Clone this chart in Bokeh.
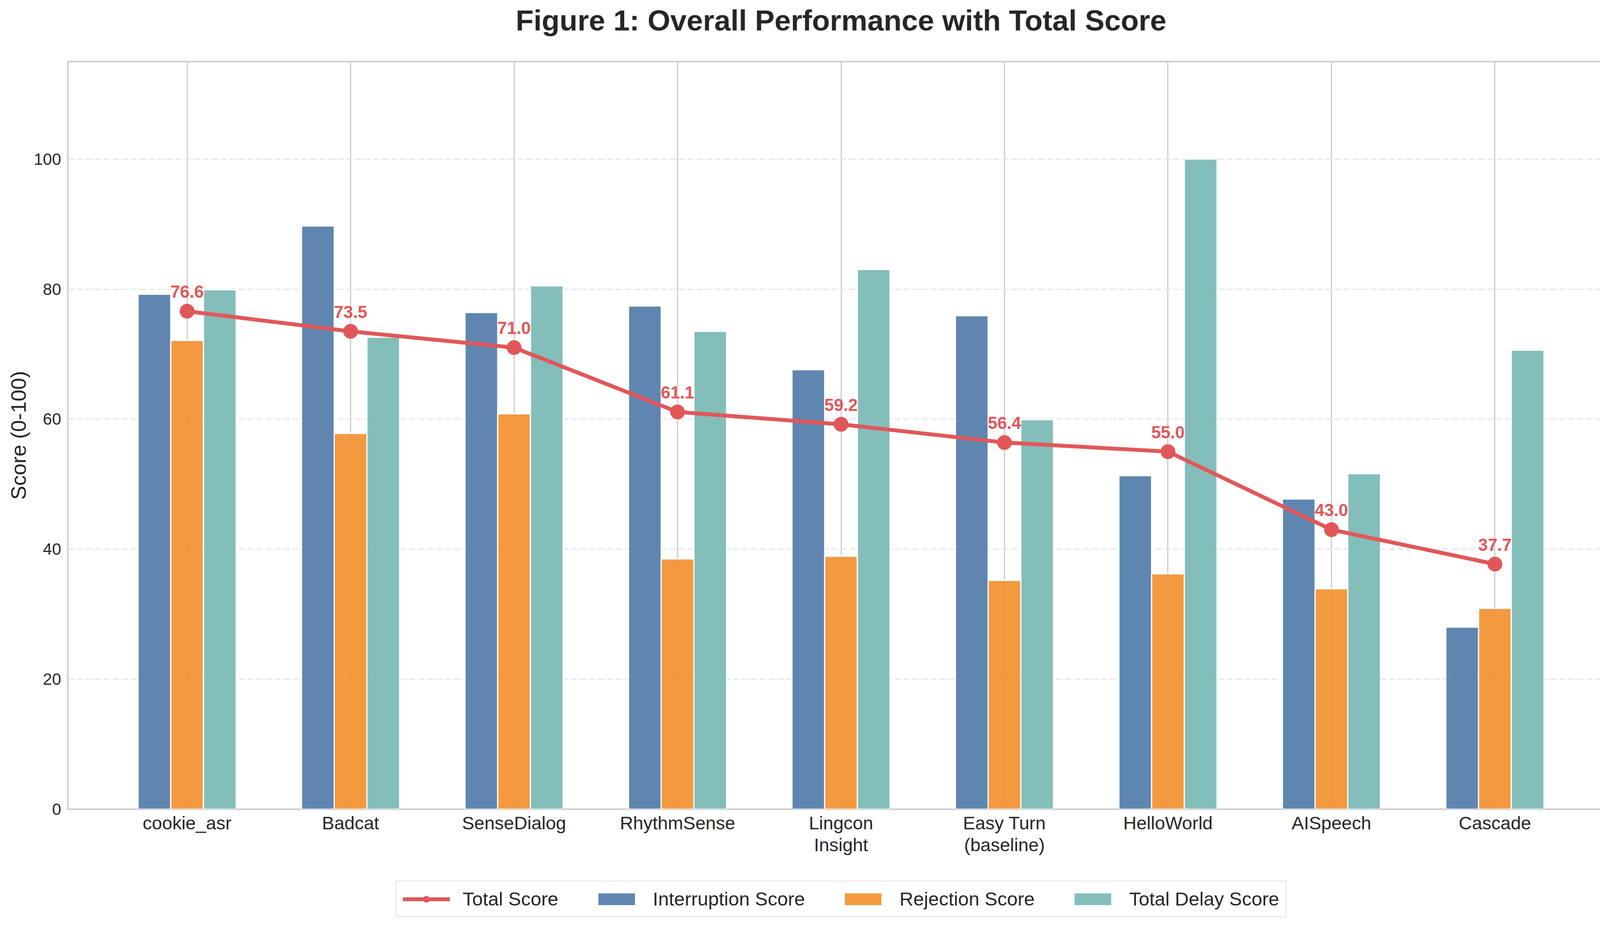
from bokeh.plotting import figure
from bokeh.layouts import column
from bokeh.models import (Range1d, FixedTicker, Legend, LegendItem, ColumnDataSource, Title,
                          LinearAxis)
from bokeh.transform import dodge
from bokeh.core.properties import value
from bokeh.embed import file_html
from bokeh.resources import INLINE

categories = ["cookie_asr", "Badcat", "SenseDialog", "RhythmSense", "Lingcon\nInsight",
              "Easy Turn\n(baseline)", "HelloWorld", "AISpeech", "Cascade"]
interruption = [79.2, 89.7, 76.4, 77.4, 67.6, 75.9, 51.3, 47.7, 28.0]
rejection = [72.1, 57.8, 60.8, 38.5, 38.9, 35.2, 36.2, 33.9, 30.9]
delay = [79.9, 72.6, 80.5, 73.5, 83.0, 59.9, 100.0, 51.6, 70.6]
total = [76.6, 73.5, 71.0, 61.1, 59.2, 56.4, 55.0, 43.0, 37.7]
y_ticks = [0, 20, 40, 60, 80, 100]
series_names = ["Total Score", "Interruption Score", "Rejection Score", "Total Delay Score"]

FONT = "Liberation Sans"
TXT = "#262626"
C_TOTAL, C_INT, C_REJ, C_DEL = "#e15759", "#4e79a7", "#f28e2b", "#76b7b2"

idx = list(range(len(categories)))
first_lines = {i: c.split("\n")[0] for i, c in enumerate(categories)}
second_lines = {i: c.split("\n")[1] for i, c in enumerate(categories) if "\n" in c}

src = ColumnDataSource(dict(
    idx=idx, interruption=interruption, rejection=rejection, delay=delay,
    total=total, label=[f"{v:.1f}" for v in total]))

p = figure(frame_width=3959, frame_height=1914, output_backend="svg", toolbar_location=None,
           x_range=Range1d(-0.73, 8.73), y_range=Range1d(0, 115), title=None,
           min_border_left=173, min_border_right=21, min_border_top=0,
           min_border_bottom=0)

# spacer (nearest the frame), then the real title above it
p.add_layout(Title(text=" ", text_font=FONT, text_font_size="10px", standoff=44), "above")
p.add_layout(Title(text="Figure 1: Overall Performance with Total Score", text_font=FONT,
                   text_font_size="75px", text_font_style="bold", text_color=TXT,
                   align="center", standoff=14), "above")

p.outline_line_color = "#cccccc"
p.outline_line_width = 4

p.xgrid.grid_line_color = "#cccccc"
p.xgrid.grid_line_width = 3
p.ygrid.grid_line_color = "#e5e5e5"
p.ygrid.grid_line_width = 3
p.ygrid.grid_line_dash = "16 7"


def style_axis(ax, size):
    ax.axis_line_color = None
    ax.major_tick_line_color = None
    ax.minor_tick_line_color = None
    ax.major_tick_out = 0
    ax.major_tick_in = 0
    ax.minor_tick_out = 0
    ax.minor_tick_in = 0
    ax.major_label_text_font = FONT
    ax.major_label_text_color = TXT
    ax.major_label_text_font_size = size


style_axis(p.xaxis[0], "47px")
style_axis(p.yaxis[0], "42px")

p.xaxis.ticker = FixedTicker(ticks=idx)
p.xaxis.major_label_overrides = first_lines
p.xaxis.major_label_standoff = 8

# second line of the two-line category names
x2 = LinearAxis(ticker=FixedTicker(ticks=list(second_lines.keys())),
                major_label_overrides=second_lines, major_label_standoff=0)
style_axis(x2, "47px")
p.add_layout(x2, "below")

p.yaxis.ticker = FixedTicker(ticks=y_ticks)
p.yaxis.major_label_standoff = 17
p.yaxis.axis_label = "Score (0-100)"
p.yaxis.axis_label_text_font = FONT
p.yaxis.axis_label_text_font_size = "54px"
p.yaxis.axis_label_text_font_style = "normal"
p.yaxis.axis_label_text_color = TXT
p.yaxis.axis_label_standoff = 6

BAR = dict(width=0.2, fill_alpha=0.9, line_color="white", line_width=3)
LINE = dict(line_color=C_TOTAL, line_width=10)
MARK = dict(size=37, fill_color=C_TOTAL, line_color=C_TOTAL)

p.vbar(x=dodge("idx", -0.2, range=p.x_range), top="interruption", source=src,
       fill_color=C_INT, **BAR)
p.vbar(x=dodge("idx", 0.0, range=p.x_range), top="rejection", source=src,
       fill_color=C_REJ, **BAR)
p.vbar(x=dodge("idx", 0.2, range=p.x_range), top="delay", source=src,
       fill_color=C_DEL, **BAR)

p.line(x="idx", y="total", source=src, **LINE)
p.scatter(x="idx", y="total", source=src, **MARK)
p.text(x="idx", y="total", text="label", source=src, text_font=value(FONT),
       text_font_style="bold", text_font_size="44px", text_color=C_TOTAL,
       text_align="center", text_baseline="alphabetic", y_offset=-50)

# legend strip below the chart (same horizontal frame as the chart).
# Its renderers show the same series, but the strip's ranges keep them out of view,
# so only the legend itself is drawn there.
leg_fig = figure(width=4153, height=173, output_backend="svg", toolbar_location=None,
                 x_axis_type=None, y_axis_type=None, x_range=Range1d(100, 101),
                 y_range=Range1d(1000, 1001), min_border_left=173, min_border_right=21,
                 min_border_top=0, min_border_bottom=0)
leg_fig.outline_line_color = None
l_ln = leg_fig.line(x="idx", y="total", source=src, **LINE)
l_sc = leg_fig.scatter(x="idx", y="total", source=src, **MARK)
l_b1 = leg_fig.vbar(x="idx", top="interruption", source=src, fill_color=C_INT, **BAR)
l_b2 = leg_fig.vbar(x="idx", top="rejection", source=src, fill_color=C_REJ, **BAR)
l_b3 = leg_fig.vbar(x="idx", top="delay", source=src, fill_color=C_DEL, **BAR)

legend = Legend(items=[
    LegendItem(label=series_names[0], renderers=[l_ln, l_sc]),
    LegendItem(label=series_names[1], renderers=[l_b1]),
    LegendItem(label=series_names[2], renderers=[l_b2]),
    LegendItem(label=series_names[3], renderers=[l_b3]),
], orientation="horizontal", location="top_center")
legend.label_text_font = FONT
legend.label_text_font_size = "49px"
legend.label_text_color = TXT
legend.glyph_width = 121
legend.glyph_height = 41
legend.label_standoff = 33
legend.spacing = 88
legend.padding = 16
legend.margin = 63
legend.border_line_color = "#d4d4d4"
legend.border_line_width = 3
legend.background_fill_color = "white"
legend.background_fill_alpha = 1.0
leg_fig.add_layout(legend, "center")

layout = column(p, leg_fig, spacing=0)
open("out.html", "w").write(file_html(layout, INLINE))
